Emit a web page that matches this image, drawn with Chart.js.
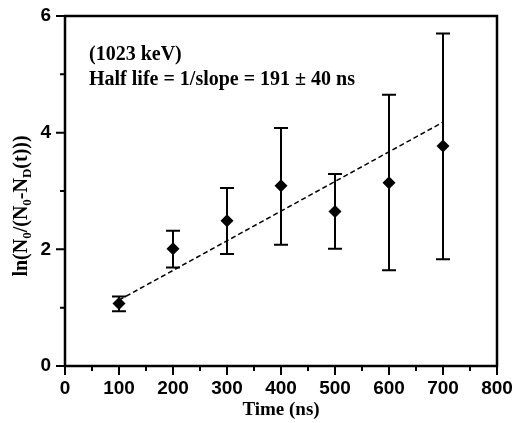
<!DOCTYPE html>
<html>
<head>
<meta charset="utf-8">
<script src="https://cdn.jsdelivr.net/npm/chart.js@4/dist/chart.umd.min.js"></script>
<style>
    html, body { margin: 0; padding: 0; background: #fff; }
    #wrap { width: 513px; height: 423px; }
</style>
</head>
<body>
<div id="wrap"><canvas id="decayChart"></canvas></div>
<script>
// data
const times = [100, 200, 300, 400, 500, 600, 700];
const lnRatio = [1.07, 2.01, 2.49, 3.09, 2.65, 3.14, 3.77];
const errLow = [0.94, 1.69, 1.92, 2.08, 2.01, 1.64, 1.83];
const errHigh = [1.19, 2.32, 3.05, 4.08, 3.29, 4.65, 5.70];
const fitX = [100, 700];
const fitY = [1.13, 4.18];

const xTicks = [0, 100, 200, 300, 400, 500, 600, 700, 800];
const xMinor = [50, 150, 250, 350, 450, 550, 650, 750];
const yTicks = [0, 2, 4, 6];
const yMinor = [1, 3, 5];

const noteLines = ["(1023 keV)", "Half life = 1/slope = 191 \u00B1 40 ns"];
const yTitleParts = [
    ["ln(N", false], ["0", true], ["/(N", false], ["0", true],
    ["-N", false], ["D", true], ["(t)))", false],
];

const serif = "'Liberation Serif', 'Times New Roman', serif";
const sans = "'Liberation Sans', Arial, sans-serif";

// error bars drawn under the markers
const errorBars = {
    id: "errorBars",
    beforeDatasetsDraw(chart) {
        const { ctx, scales: { x, y } } = chart;
        ctx.save();
        ctx.strokeStyle = "#000";
        ctx.lineWidth = 2;
        times.forEach((t, i) => {
            const px = x.getPixelForValue(t);
            const top = y.getPixelForValue(errHigh[i]);
            const bot = y.getPixelForValue(errLow[i]);
            ctx.beginPath();
            ctx.moveTo(px, top);
            ctx.lineTo(px, bot);
            ctx.moveTo(px - 7, top);
            ctx.lineTo(px + 7, top);
            ctx.moveTo(px - 7, bot);
            ctx.lineTo(px + 7, bot);
            ctx.stroke();
        });
        ctx.restore();
    },
};

// box frame, outward ticks, y title and note text
const frame = {
    id: "frame",
    afterDraw(chart) {
        const { ctx, chartArea: a, scales: { x, y } } = chart;
        ctx.save();
        ctx.strokeStyle = "#000";
        ctx.lineWidth = 2.5;
        ctx.strokeRect(a.left, a.top, a.right - a.left, a.bottom - a.top);

        ctx.lineWidth = 2;
        ctx.beginPath();
        xTicks.forEach((v) => {
            const px = x.getPixelForValue(v);
            ctx.moveTo(px, a.bottom);
            ctx.lineTo(px, a.bottom + 9);
        });
        xMinor.forEach((v) => {
            const px = x.getPixelForValue(v);
            ctx.moveTo(px, a.bottom);
            ctx.lineTo(px, a.bottom + 5);
        });
        yTicks.forEach((v) => {
            const py = y.getPixelForValue(v);
            ctx.moveTo(a.left, py);
            ctx.lineTo(a.left - 9, py);
        });
        yMinor.forEach((v) => {
            const py = y.getPixelForValue(v);
            ctx.moveTo(a.left, py);
            ctx.lineTo(a.left - 5, py);
        });
        ctx.stroke();

        // note
        ctx.fillStyle = "#000";
        ctx.font = "bold 20px " + serif;
        ctx.textBaseline = "alphabetic";
        ctx.textAlign = "left";
        ctx.fillText(noteLines[0], a.left + 24, a.top + 44);
        ctx.fillText(noteLines[1], a.left + 24, a.top + 69);

        // y title with subscripts
        const big = "bold 20px " + serif;
        const small = "bold 13px " + serif;
        let total = 0;
        yTitleParts.forEach(([s, sub]) => {
            ctx.font = sub ? small : big;
            total += ctx.measureText(s).width;
        });
        const cy = a.top + 190;
        ctx.translate(27, cy + total / 2);
        ctx.rotate(-Math.PI / 2);
        let pos = 0;
        yTitleParts.forEach(([s, sub]) => {
            ctx.font = sub ? small : big;
            ctx.fillText(s, pos, sub ? 4 : 0);
            pos += ctx.measureText(s).width;
        });
        ctx.restore();
    },
};

const ctx = document.getElementById("decayChart");

new Chart(ctx, {
    data: {
        datasets: [
            {
                type: "scatter",
                label: "data",
                data: times.map((t, i) => ({ x: t, y: lnRatio[i] })),
                pointStyle: "rectRot",
                pointRadius: 6.5,
                pointHoverRadius: 6.5,
                backgroundColor: "#000",
                borderColor: "#000",
                borderWidth: 0,
            },
            {
                type: "line",
                label: "fit",
                data: fitX.map((t, i) => ({ x: t, y: fitY[i] })),
                borderColor: "#000",
                borderWidth: 1.5,
                borderDash: [5, 3],
                pointRadius: 0,
                fill: false,
            },
        ],
    },
    options: {
        responsive: true,
        maintainAspectRatio: false,
        animation: false,
        layout: {
            padding: { top: 16, right: 16, bottom: 0, left: 0 },
        },
        plugins: {
            legend: { display: false },
            tooltip: { enabled: false },
        },
        scales: {
            x: {
                type: "linear",
                min: 0,
                max: 800,
                afterBuildTicks: (s) => {
                    s.ticks = xTicks.map((v) => ({ value: v }));
                },
                afterFit: (s) => {
                    s.height = 57;
                    s.paddingLeft = 0;
                    s.paddingRight = 0;
                },
                ticks: {
                    color: "#000",
                    padding: 11,
                    maxRotation: 0,
                    font: { family: sans, size: 19, weight: "bold" },
                },
                grid: { display: false, drawTicks: false },
                border: { display: false },
                title: {
                    display: true,
                    text: "Time (ns)",
                    color: "#000",
                    padding: { top: 0, bottom: 2 },
                    font: { family: serif, size: 19, weight: "bold" },
                },
            },
            y: {
                type: "linear",
                min: 0,
                max: 6,
                afterBuildTicks: (s) => {
                    s.ticks = yTicks.map((v) => ({ value: v }));
                },
                afterFit: (s) => {
                    s.width = 65;
                    s.paddingTop = 0;
                    s.paddingBottom = 0;
                },
                ticks: {
                    color: "#000",
                    padding: 14,
                    font: { family: sans, size: 19, weight: "bold" },
                },
                grid: { display: false, drawTicks: false },
                border: { display: false },
            },
        },
    },
    plugins: [errorBars, frame],
});
</script>
</body>
</html>
